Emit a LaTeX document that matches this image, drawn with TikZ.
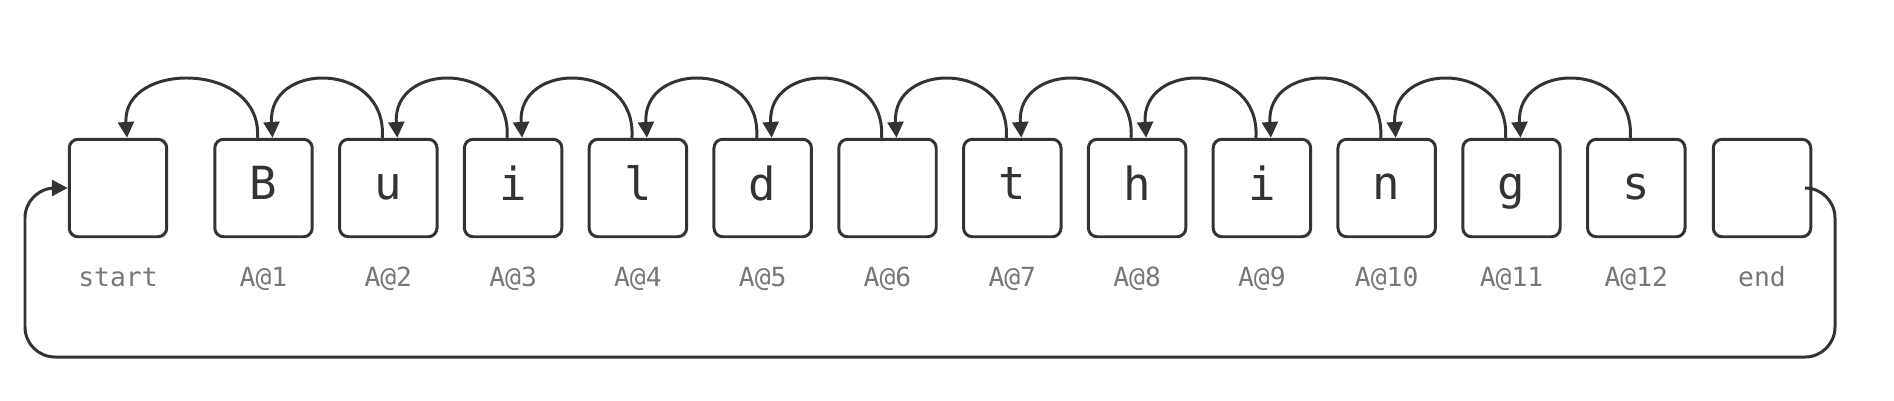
\documentclass[tikz,border=0pt]{standalone}
\usepackage{fontspec}
\setmonofont{DejaVu Sans Mono}
\usetikzlibrary{arrows.meta}
\definecolor{ink}{HTML}{333333}
\definecolor{lab}{HTML}{777777}
\begin{document}
\begin{tikzpicture}[x=0.02cm,y=-0.02cm,
  box/.style={draw=ink,line width=1.7pt,rounded corners=5pt,minimum size=1.95cm,inner sep=0pt,font=\ttfamily\fontsize{26}{26}\selectfont,text=ink},
  lbl/.style={anchor=base,font=\ttfamily\fontsize{15}{15}\selectfont,text=lab},
  arc/.style={draw=ink,line width=1.7pt,-{Triangle[length=9pt,width=9pt]}}]
\useasboundingbox (0,0) rectangle (1894,400);
\node[box] (b0) at (118,188) {};
\node[lbl] at (118,286) {start};
\def\letters{{"B","u","i","l","d","","t","h","i","n","g","s"}}
\foreach \i in {1,...,12}{
  \pgfmathsetmacro\cx{263.5+124.8*(\i-1)}
  \pgfmathsetmacro\ch{\letters[\i-1]}
  \node[box] (b\i) at (\cx,188) {\ch\vphantom{Bg}};
  \node[lbl] at (\cx,286) {A@\i};
}
\node[box] (b13) at (1762,188) {};
\node[lbl] at (1762,286) {end};
\foreach \i [evaluate=\i as \p using int(\i-1)] in {1,...,12}{
  \draw[arc] ([xshift=-0.12cm]b\i.north) .. controls +(5,-77) and +(-5,-77) .. ([xshift=0.18cm]b\p.north);
}
\coordinate (r) at (1835,357);
\coordinate (l) at (25,357);
\draw[draw=ink,line width=1.7pt,rounded corners=0.6cm,-{Triangle[length=9pt,width=9pt]}]
  (b13.east) -| (r) -- (l) |- (b0.west);
\end{tikzpicture}
\end{document}
